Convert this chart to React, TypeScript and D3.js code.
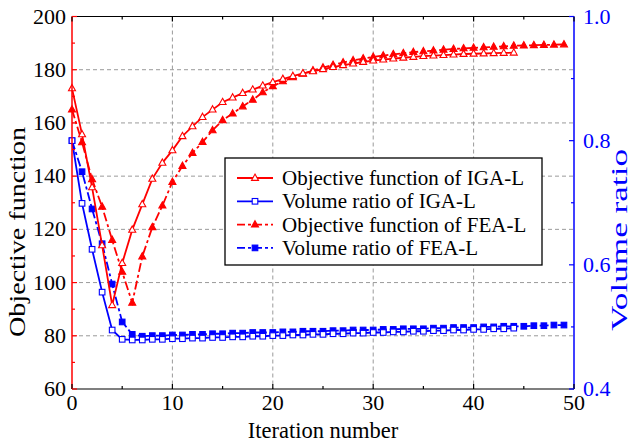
import React from "react";
import * as d3 from "d3";

const igaObjective = [173, 155.7, 135.8, 114, 91.5, 107.3, 119.8, 129.4, 139, 145, 149.7, 155, 158.7, 162.2, 165, 167.8, 169.5, 171.2, 172.5, 174, 175.3, 176.5, 177.6, 178.6, 179.4, 180.2, 181, 181.7, 182.3, 182.9, 183.4, 183.8, 184.2, 184.5, 184.8, 185.1, 185.3, 185.5, 185.7, 185.9, 186.0, 186.1, 186.2, 186.3, 186.4];
const feaObjective = [165, 152.7, 138.8, 128.5, 116, 104, 92.4, 109.8, 120.8, 128.9, 137.8, 143.8, 148.7, 152.8, 157.2, 161, 163.5, 166.2, 168.7, 171.5, 173.8, 175.6, 177.1, 178.5, 179.7, 180.8, 181.8, 182.7, 183.5, 184.2, 184.8, 185.3, 185.8, 186.2, 186.6, 186.9, 187.2, 187.5, 187.8, 188.0, 188.2, 188.4, 188.6, 188.8, 189.0, 189.1, 189.2, 189.3, 189.4, 189.5];
const igaVolume = [0.800, 0.699, 0.625, 0.556, 0.495, 0.480, 0.479, 0.479, 0.480, 0.480, 0.481, 0.481, 0.482, 0.482, 0.483, 0.483, 0.484, 0.484, 0.485, 0.485, 0.486, 0.486, 0.487, 0.487, 0.488, 0.488, 0.489, 0.489, 0.490, 0.490, 0.491, 0.491, 0.492, 0.492, 0.493, 0.493, 0.494, 0.494, 0.495, 0.495, 0.496, 0.496, 0.497, 0.497, 0.498];
const feaVolume = [0.800, 0.750, 0.690, 0.634, 0.569, 0.508, 0.488, 0.485, 0.486, 0.486, 0.487, 0.487, 0.488, 0.488, 0.489, 0.489, 0.490, 0.490, 0.491, 0.491, 0.491, 0.492, 0.492, 0.493, 0.493, 0.493, 0.494, 0.494, 0.495, 0.495, 0.495, 0.496, 0.496, 0.497, 0.497, 0.497, 0.498, 0.498, 0.499, 0.499, 0.499, 0.500, 0.500, 0.501, 0.501, 0.501, 0.502, 0.502, 0.503, 0.503];

const xTicks = [0, 10, 20, 30, 40, 50];
const xMinorTicks = [5, 15, 25, 35, 45];
const yTicks = [60, 80, 100, 120, 140, 160, 180, 200];
const yMinorTicks = [70, 90, 110, 130, 150, 170, 190];
const y2Ticks = [0.4, 0.6, 0.8, 1.0];
const y2MinorTicks = [0.5, 0.7, 0.9];
const legendLabels = [
  "Objective function of IGA-L",
  "Volume ratio of IGA-L",
  "Objective function of FEA-L",
  "Volume ratio of FEA-L",
];

const W = 632, H = 445;
const L = 72, R = 574, T = 16.5, B = 389;
const RED = "#ff0000", BLUE = "#0000ff";
const FONT = "'Liberation Serif', 'Times New Roman', Times, serif";

function triPath(cx: number, cy: number, s: number) {
  const h = s * 0.9;
  return `M${cx},${cy - h * 0.62}L${cx + s / 2},${cy + h * 0.38}L${cx - s / 2},${cy + h * 0.38}Z`;
}

export default function App() {
  const x = d3.scaleLinear().domain([0, 50]).range([L, R]);
  const y = d3.scaleLinear().domain([60, 200]).range([B, T]);
  const y2 = d3.scaleLinear().domain([0.4, 1.0]).range([B, T]);

  const lineObj = d3.line<number>().x((_, i) => x(i)).y((d) => y(d));
  const lineVol = d3.line<number>().x((_, i) => x(i)).y((d) => y2(d));

  const dashDot = "9,3,3,3";

  const series = [
    { data: igaObjective, scale: y, line: lineObj, color: RED, dash: undefined, marker: "tri", filled: false },
    { data: igaVolume, scale: y2, line: lineVol, color: BLUE, dash: undefined, marker: "sq", filled: false },
    { data: feaObjective, scale: y, line: lineObj, color: RED, dash: dashDot, marker: "tri", filled: true },
    { data: feaVolume, scale: y2, line: lineVol, color: BLUE, dash: dashDot, marker: "sq", filled: true },
  ];

  const drawOrder = [2, 3, 0, 1];

  const marker = (kind: string, filled: boolean, color: string, cx: number, cy: number, key: string) =>
    kind === "tri" ? (
      <path key={key} d={triPath(cx, cy, 7)} fill={filled ? color : "#fff"} stroke={color} strokeWidth={1.1} />
    ) : (
      <rect key={key} x={cx - 2.8} y={cy - 2.8} width={5.6} height={5.6} fill={filled ? color : "#fff"} stroke={color} strokeWidth={1.1} />
    );

  const legX = 225, legY = 158, legW = 317, legH = 107;
  const rowY = (i: number) => legY + 20 + i * 23.3;

  return (
    <svg width={W} height={H} style={{ position: "absolute", left: 0, top: 0, background: "#fff", fontFamily: FONT }}>
      <rect x={0} y={0} width={W} height={H} fill="#fff" />
      {/* grid */}
      {xTicks.filter((t) => t > 0 && t < 50).map((t) => (
        <line key={"gx" + t} x1={x(t)} x2={x(t)} y1={T} y2={B} stroke="#9a9a9a" strokeWidth={1} strokeDasharray="4,3" />
      ))}
      {yTicks.filter((t) => t > 60 && t < 200).map((t) => (
        <line key={"gy" + t} x1={L} x2={R} y1={y(t)} y2={y(t)} stroke="#9a9a9a" strokeWidth={1} strokeDasharray="4,3" />
      ))}
      {/* series */}
      {drawOrder.map((si) => {
        const s = series[si];
        return (
          <g key={"s" + si}>
            <path d={s.line(s.data) || ""} fill="none" stroke={s.color} strokeWidth={1.8} strokeDasharray={s.dash} />
            {s.data.map((d, i) => marker(s.marker, s.filled, s.color, x(i), s.scale(d), `m${si}-${i}`))}
          </g>
        );
      })}
      {/* frame */}
      <line x1={L} x2={R} y1={T} y2={T} stroke="#000" strokeWidth={1.2} />
      <line x1={L} x2={R} y1={B} y2={B} stroke="#000" strokeWidth={1.2} />
      <line x1={L} x2={L} y1={T} y2={B} stroke={RED} strokeWidth={1.5} />
      <line x1={R} x2={R} y1={T} y2={B} stroke={BLUE} strokeWidth={1.5} />
      {/* x ticks */}
      {xTicks.map((t) => (
        <g key={"xt" + t}>
          <line x1={x(t)} x2={x(t)} y1={B} y2={B - 5} stroke="#000" strokeWidth={1.2} />
          <line x1={x(t)} x2={x(t)} y1={T} y2={T + 5} stroke="#000" strokeWidth={1.2} />
          <text x={x(t)} y={410} textAnchor="middle" fontSize={22} fill="#000">{t}</text>
        </g>
      ))}
      {xMinorTicks.map((t) => (
        <g key={"xm" + t}>
          <line x1={x(t)} x2={x(t)} y1={B} y2={B - 3} stroke="#000" strokeWidth={1.2} />
          <line x1={x(t)} x2={x(t)} y1={T} y2={T + 3} stroke="#000" strokeWidth={1.2} />
        </g>
      ))}
      {/* left ticks */}
      {yTicks.map((t) => (
        <g key={"yt" + t}>
          <line x1={L} x2={L + 5} y1={y(t)} y2={y(t)} stroke={RED} strokeWidth={1.2} />
          <text x={66} y={y(t) + 7} textAnchor="end" fontSize={22} fill="#000">{t}</text>
        </g>
      ))}
      {yMinorTicks.map((t) => (
        <line key={"ym" + t} x1={L} x2={L + 3} y1={y(t)} y2={y(t)} stroke={RED} strokeWidth={1.2} />
      ))}
      {/* right ticks */}
      {y2Ticks.map((t) => (
        <g key={"y2t" + t}>
          <line x1={R} x2={R - 5} y1={y2(t)} y2={y2(t)} stroke={BLUE} strokeWidth={1.2} />
          <text x={583} y={y2(t) + 7} textAnchor="start" fontSize={22} fill={BLUE}>{t.toFixed(1)}</text>
        </g>
      ))}
      {y2MinorTicks.map((t) => (
        <line key={"y2m" + t} x1={R} x2={R - 3} y1={y2(t)} y2={y2(t)} stroke={BLUE} strokeWidth={1.2} />
      ))}
      {/* axis titles */}
      <text x={323} y={438} textAnchor="middle" fontSize={22.5} fill="#000">Iteration number</text>
      <text transform={`translate(25,232) rotate(-90)`} textAnchor="middle" fontSize={23} textLength={210} lengthAdjust="spacingAndGlyphs" fill="#000">Objective function</text>
      <text transform={`translate(627,240) rotate(-90)`} textAnchor="middle" fontSize={23} textLength={182} lengthAdjust="spacingAndGlyphs" fill={BLUE}>Volume ratio</text>
      {/* legend */}
      <rect x={legX} y={legY} width={legW} height={legH} fill="#fff" stroke="#000" strokeWidth={1.3} />
      {legendLabels.map((lab, i) => {
        const s = series[i];
        const cy = rowY(i);
        return (
          <g key={"lg" + i}>
            <line x1={237} x2={273} y1={cy} y2={cy} stroke={s.color} strokeWidth={1.8} strokeDasharray={s.dash ? "8,3,3,3" : undefined} />
            {marker(s.marker, s.filled, s.color, 255, cy, "lm" + i)}
            <text x={282} y={cy + 7} fontSize={21} fill="#000">{lab}</text>
          </g>
        );
      })}
    </svg>
  );
}
